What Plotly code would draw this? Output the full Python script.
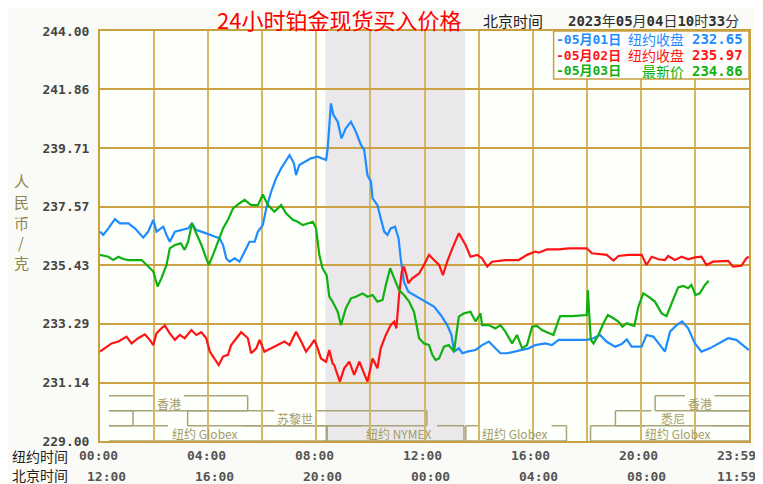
import plotly.graph_objects as go

# ---------------- data (NY time in hours, price CNY/g) ----------------
blue_t = [0.00,0.12,0.31,0.55,0.74,1.05,1.29,1.60,1.78,1.97,
          2.09,2.34,2.46,2.58,2.77,3.01,3.26,3.40,3.56,3.75,
          3.99,4.24,4.42,4.55,4.67,4.79,4.98,5.16,5.35,5.53,
          5.72,5.84,6.02,6.15,6.33,6.51,6.70,6.88,7.01,7.17,
          7.25,7.37,7.56,7.80,8.05,8.36,8.42,8.46,8.54,8.63,
          8.79,8.93,9.09,9.28,9.46,9.65,9.77,9.89,10.02,10.08,
          10.26,10.38,10.51,10.63,10.75,10.91,11.04,11.12,11.24,11.40,
          11.61,11.80,12.04,12.35,12.60,12.84,13.00,13.09,13.27,13.40,
          13.58,13.89,14.13,14.38,14.62,14.81,15.05,15.36,15.61,15.85,
          16.10,16.47,16.71,16.96,17.45,18.00,18.25,18.49,18.74,19.05,
          19.29,19.48,19.66,20.03,20.21,20.46,20.71,20.89,21.08,21.32,
          21.53,21.75,22.00,22.24,22.55,22.86,23.23,23.53,23.78,23.99]
blue_v = [236.66,236.54,236.78,237.12,236.96,236.96,236.78,236.44,236.66,237.09,
          236.66,236.84,236.54,236.29,236.66,236.72,236.78,236.96,236.72,236.66,
          236.56,236.48,236.42,236.17,235.68,235.56,235.68,235.56,235.93,236.29,
          236.29,236.66,236.90,237.51,238.12,238.61,238.98,239.28,239.46,239.16,
          238.73,239.10,239.22,239.34,239.40,239.28,239.71,240.20,241.35,240.93,
          240.68,240.07,240.44,240.68,240.32,239.83,239.65,238.73,238.49,237.88,
          237.63,237.15,236.66,236.54,236.78,236.84,236.42,235.68,234.83,234.46,
          234.34,234.22,234.10,233.92,233.61,233.24,232.88,232.27,232.39,232.21,
          232.27,232.33,232.51,232.64,232.39,232.21,232.21,232.27,232.33,232.39,
          232.51,232.57,232.51,232.70,232.70,232.70,232.76,232.88,232.63,232.45,
          232.55,232.72,232.45,232.45,232.88,232.82,232.51,232.27,233.00,233.24,
          233.37,233.12,232.57,232.27,232.39,232.57,232.76,232.70,232.51,232.33]

red_t = [0.00,0.18,0.43,0.68,0.98,1.17,1.41,1.66,1.84,1.97,
         2.09,2.27,2.40,2.58,2.77,2.95,3.13,3.38,3.56,3.75,
         3.93,4.06,4.24,4.39,4.55,4.73,4.85,5.04,5.22,5.47,
         5.59,5.78,5.90,6.08,6.33,6.58,6.82,7.01,7.25,7.44,
         7.62,7.80,7.93,8.05,8.17,8.36,8.48,8.60,8.66,8.87,
         9.03,9.22,9.40,9.59,9.77,9.89,10.08,10.26,10.38,10.57,
         10.75,10.88,10.96,11.06,11.16,11.24,11.33,11.40,11.55,11.80,
         11.98,12.17,12.35,12.54,12.68,12.84,13.03,13.27,13.52,13.70,
         13.95,14.13,14.32,14.50,14.99,15.48,15.79,16.10,16.22,16.53,
         16.96,17.33,18.00,18.19,18.74,18.99,19.17,19.54,20.03,20.21,
         20.40,20.65,20.89,21.01,21.26,21.51,21.75,22.00,22.24,22.43,
         22.67,23.23,23.41,23.72,23.90,23.99]
red_v = [232.27,232.39,232.57,232.64,232.82,232.57,232.76,232.90,232.70,232.51,
         232.94,233.12,233.22,232.94,232.70,232.88,232.76,233.06,232.88,232.98,
         232.76,232.27,232.02,231.78,232.09,232.15,232.51,232.76,232.98,232.76,
         232.21,232.39,232.70,232.27,232.39,232.51,232.64,232.51,233.00,232.64,
         232.27,232.51,232.70,232.39,232.02,231.90,232.33,231.84,231.78,231.17,
         231.66,231.90,231.42,231.90,231.42,231.17,232.02,231.66,232.39,232.88,
         233.24,233.37,233.12,234.34,235.20,235.38,235.07,234.77,234.95,235.13,
         235.44,235.81,235.62,235.44,235.07,235.56,236.05,236.60,236.17,235.74,
         235.81,235.68,235.38,235.56,235.62,235.62,235.81,235.93,235.89,236.01,
         236.01,236.05,236.05,235.87,235.81,235.60,235.77,235.81,235.81,235.44,
         235.74,235.65,235.62,235.77,235.62,235.74,235.65,235.72,235.74,235.44,
         235.56,235.59,235.38,235.41,235.68,235.74]

green_t = [0.00,0.31,0.49,0.68,0.86,1.05,1.54,1.78,1.97,2.13,
           2.27,2.46,2.58,2.77,2.99,3.13,3.26,3.40,3.56,3.75,
           3.93,4.02,4.18,4.36,4.55,4.73,4.92,5.16,5.35,5.59,
           5.84,6.02,6.21,6.45,6.70,6.88,7.13,7.31,7.50,7.68,
           7.87,7.99,8.11,8.23,8.38,8.48,8.60,8.79,8.91,9.09,
           9.28,9.46,9.71,9.89,10.08,10.26,10.45,10.57,10.73,10.88,
           11.06,11.24,11.43,11.61,11.80,11.98,12.17,12.29,12.41,12.54,
           12.72,12.90,13.09,13.27,13.46,13.70,13.89,14.07,14.13,14.38,
           14.62,14.81,14.99,15.24,15.42,15.61,15.79,15.98,16.16,16.34,
           16.59,16.77,16.96,17.02,17.45,18.00,18.04,18.09,18.15,18.25,
           18.43,18.62,18.78,18.99,19.17,19.32,19.48,19.66,19.76,19.91,
           20.09,20.28,20.52,20.77,20.95,21.14,21.38,21.57,21.75,21.87,
           22.02,22.18,22.37,22.51]
green_v = [235.81,235.74,235.62,235.74,235.66,235.62,235.62,235.38,235.20,234.65,
           234.95,235.44,236.05,236.17,236.23,235.99,236.29,236.96,236.60,236.17,
           235.68,235.44,235.81,236.29,236.78,237.09,237.51,237.70,237.82,237.63,
           237.63,238.02,237.63,237.39,237.63,237.33,237.09,237.02,236.90,236.96,
           237.02,236.78,235.81,235.32,235.07,234.28,234.10,233.73,233.24,233.85,
           234.22,234.28,234.40,234.28,234.34,234.10,234.16,234.71,235.32,234.95,
           234.52,234.34,234.10,233.73,232.76,232.57,232.51,232.15,231.96,232.02,
           232.45,232.51,232.27,233.55,233.67,233.73,233.37,233.67,233.24,233.24,
           233.12,233.24,233.00,232.57,232.88,232.39,232.51,233.18,233.21,233.06,
           232.94,232.88,233.43,233.57,233.57,233.61,234.52,233.67,232.70,232.57,
           232.88,233.31,233.61,233.49,233.37,233.18,233.31,233.24,233.21,233.92,
           234.40,234.28,234.10,233.67,233.57,234.04,234.62,234.67,234.59,234.71,
           234.34,234.40,234.71,234.86]

series_dates = ["-05月01日", "-05月02日", "-05月03日"]
series_kinds = ["纽约收盘", "纽约收盘", "最新价"]
series_last = [232.65, 235.97, 234.86]
series_colors = ["#1e8cff", "#ff1414", "#10b010"]

y_ticks = [229.00, 231.14, 233.29, 235.43, 237.57, 239.71, 241.86, 244.00]
x_tick_hours = [0, 4, 8, 12, 16, 20, 24]
ny_labels = ["00:00", "04:00", "08:00", "12:00", "16:00", "20:00", "23:59"]
bj_labels = ["12:00", "16:00", "20:00", "00:00", "04:00", "08:00", "11:59"]

comex_start, comex_end = 8.333, 13.5

# trading sessions: label, start, end, row, gap start, gap end, left closed, right closed
sessions = [
    ("香港", 0.33, 5.46, 0, 2.00, 3.10, False, True),
    ("香港", 20.53, 24.0, 0, 21.63, 22.73, True, False),
    ("", 0.33, 1.22, 1, None, None, False, True),
    ("苏黎世", 3.24, 12.09, 1, 6.45, 8.00, True, True),
    ("悉尼", 19.06, 24.0, 1, 20.39, 22.01, True, False),
    ("纽约 Globex", 0.33, 8.37, 2, 2.51, 5.24, False, True),
    ("纽约 NYMEX", 8.40, 13.46, 2, 9.65, 12.46, True, True),
    ("纽约 Globex", 13.53, 17.25, 2, 14.01, 16.70, True, True),
    ("纽约 Globex", 18.14, 24.0, 2, 20.16, 22.60, True, False),
]

# ---------------- figure ----------------
# the page body adds an 8px offset; size the figure so the plot lands where the reference has it
OFF = 8
W, H = 763 - OFF, 484 - OFF
L, T = 100 - OFF, 31 - OFF
PW, PH = 651, 410
R, B = W - L - PW, H - T - PH

def px_x(px):   # reference pixel x -> paper fraction
    return (px - 100) / PW

def px_y(py):   # reference pixel y -> paper fraction
    return (441 - py) / PH

MONO = "DejaVu Sans Mono, Noto Sans CJK SC, sans-serif"
CJK = "Noto Sans CJK SC, sans-serif"
GOLD_V = "#d6b766"
GOLD_H = "#cba344"
OLIVE = "#a9a47a"
OLIVE_TXT = "#a39c68"

fig = go.Figure()
for t, v, c in [(blue_t, blue_v, series_colors[0]),
                (red_t, red_v, series_colors[1]),
                (green_t, green_v, series_colors[2])]:
    fig.add_trace(go.Scatter(x=t, y=v, mode="lines",
                             line=dict(color=c, width=2.2),
                             showlegend=False, hoverinfo="skip"))

shapes = []
shapes.append(dict(type="rect", xref="x", yref="paper", x0=comex_start, x1=comex_end,
                   y0=0, y1=1, fillcolor="#ebe8ec", line=dict(width=0), layer="below"))

row_edges = [px_y(395.7), px_y(410.7), px_y(425.7), px_y(441)]
annotations = []
for label, x0, x1, row, g0, g1, lc, rc in sessions:
    top, bot = row_edges[row], row_edges[row + 1]
    ln = dict(color=OLIVE, width=1.5)
    if g0 is None:
        shapes.append(dict(type="line", xref="x", yref="paper", x0=x0, x1=x1, y0=top, y1=top, line=ln, layer="below"))
    else:
        shapes.append(dict(type="line", xref="x", yref="paper", x0=x0, x1=g0, y0=top, y1=top, line=ln, layer="below"))
        shapes.append(dict(type="line", xref="x", yref="paper", x0=g1, x1=x1, y0=top, y1=top, line=ln, layer="below"))
    shapes.append(dict(type="line", xref="x", yref="paper", x0=x0, x1=x1, y0=bot, y1=bot, line=ln, layer="below"))
    if lc:
        shapes.append(dict(type="line", xref="x", yref="paper", x0=x0, x1=x0, y0=bot, y1=top, line=ln, layer="below"))
    if rc:
        shapes.append(dict(type="line", xref="x", yref="paper", x0=x1, x1=x1, y0=bot, y1=top, line=ln, layer="below"))
    if label:
        annotations.append(dict(x=(g0 + g1) / 2, y=(top + bot) / 2, xref="x", yref="paper",
                                text=label, showarrow=False, xanchor="center", yanchor="middle",
                                borderpad=0,
                                font=dict(family=CJK, size=12, color=OLIVE_TXT)))

# legend box
shapes.append(dict(type="rect", xref="paper", yref="paper", x0=px_x(555), x1=1.0,
                   y0=px_y(79), y1=1.0, fillcolor="#ffffff",
                   line=dict(color="#c9a040", width=1.5), layer="above"))
row_y = [39, 55, 71]
for i in range(3):
    c = series_colors[i]
    annotations.append(dict(x=px_x(556), y=px_y(row_y[i]), xref="paper", yref="paper",
                            text="<b>" + series_dates[i] + "</b>", showarrow=False,
                            xanchor="left", yanchor="middle", borderpad=0,
                            font=dict(family=MONO, size=13, color=c)))
    annotations.append(dict(x=px_x(687), y=px_y(row_y[i]), xref="paper", yref="paper",
                            text=series_kinds[i], showarrow=False,
                            xanchor="right", yanchor="middle", borderpad=0,
                            font=dict(family=CJK, size=14, color=c)))
    annotations.append(dict(x=px_x(693), y=px_y(row_y[i]), xref="paper", yref="paper",
                            text="<b>%.2f</b>" % series_last[i], showarrow=False,
                            xanchor="left", yanchor="middle", borderpad=0,
                            font=dict(family=MONO, size=14, color=c)))

# title and header
annotations.append(dict(x=px_x(340), y=px_y(19), xref="paper", yref="paper",
                        text="24小时铂金现货买入价格", showarrow=False,
                        xanchor="center", yanchor="middle", borderpad=0,
                        font=dict(family=CJK, size=22, color="#ff0000")))
annotations.append(dict(x=px_x(514), y=px_y(21), xref="paper", yref="paper",
                        text="北京时间", showarrow=False, xanchor="center", yanchor="middle",
                        borderpad=0,
                        font=dict(family=CJK, size=15, color="#222222")))
annotations.append(dict(x=px_x(655), y=px_y(21), xref="paper", yref="paper",
                        text="<b>2023</b>年<b>05</b>月<b>04</b>日<b>10</b>时<b>33</b>分",
                        showarrow=False, xanchor="center", yanchor="middle", borderpad=0,
                        font=dict(family=MONO, size=14, color="#333333")))

# y-axis title (vertical characters)
for ch, py in zip(["人", "民", "币", "/", "克"], [180, 201, 222, 242, 262]):
    annotations.append(dict(x=px_x(21), y=px_y(py), xref="paper", yref="paper",
                            text=ch, showarrow=False, xanchor="center", yanchor="middle",
                            borderpad=0,
                            font=dict(family=CJK, size=15, color="#8c8750")))

# x tick labels (two rows)
annotations.append(dict(x=px_x(40), y=px_y(456), xref="paper", yref="paper", text="纽约时间",
                        showarrow=False, xanchor="center", yanchor="middle", borderpad=0,
                        font=dict(family=CJK, size=14, color="#222222")))
annotations.append(dict(x=px_x(40), y=px_y(475), xref="paper", yref="paper", text="北京时间",
                        showarrow=False, xanchor="center", yanchor="middle", borderpad=0,
                        font=dict(family=CJK, size=14, color="#222222")))
for h, ny, bj in zip(x_tick_hours, ny_labels, bj_labels):
    last = (h == 24)
    anchor = "right" if last else "center"
    annotations.append(dict(x=h, y=px_y(455), xref="x", yref="paper", text="<b>%s</b>" % ny,
                            showarrow=False, xanchor=anchor, yanchor="middle",
                            xshift=8 if last else -2, borderpad=0,
                            font=dict(family=MONO, size=13, color="#555555")))
    annotations.append(dict(x=h, y=px_y(476), xref="x", yref="paper", text="<b>%s</b>" % bj,
                            showarrow=False, xanchor=anchor, yanchor="middle",
                            xshift=8 if last else 6, borderpad=0,
                            font=dict(family=MONO, size=13, color="#555555")))

fig.update_layout(
    width=W, height=H, autosize=False,
    margin=dict(l=L, r=R, t=T, b=B, pad=0),
    paper_bgcolor="#fafbf6", plot_bgcolor="#fdfffa",
    shapes=shapes, annotations=annotations, showlegend=False,
    xaxis=dict(range=[0, 24], tickvals=list(range(0, 25, 2)), showticklabels=False,
               showgrid=True, gridcolor=GOLD_V, gridwidth=2, zeroline=False,
               showline=True, linecolor="#c9a040", linewidth=2, mirror=True, ticks="",
               fixedrange=True),
    yaxis=dict(range=[229, 244], tickvals=y_ticks,
               ticktext=["<b>%.2f</b>" % v for v in y_ticks],
               tickfont=dict(family=MONO, size=13, color="#444444"),
               showgrid=True, gridcolor=GOLD_H, gridwidth=1.6, zeroline=False,
               showline=True, linecolor="#c9a040", linewidth=2, mirror=True,
               ticks="outside", ticklen=6, tickcolor="rgba(0,0,0,0)",
               fixedrange=True),
)

fig.write_html("out.html")
